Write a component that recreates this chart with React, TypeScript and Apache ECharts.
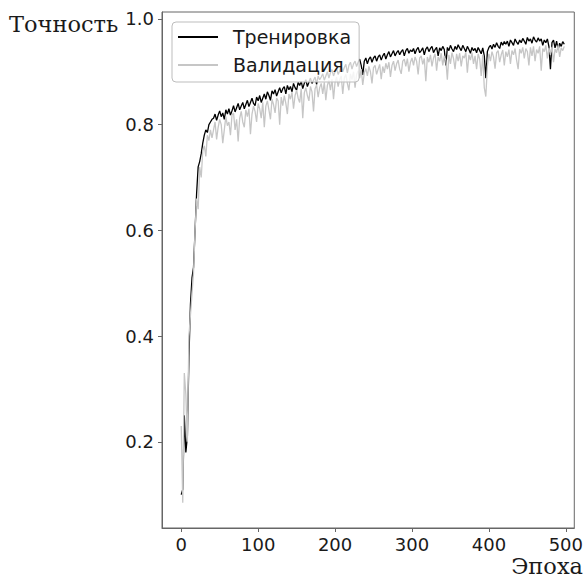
import React, { useEffect, useRef } from "react";
import * as echarts from "echarts";

const EPOCH_STEP = 2;
const X_TICKS = [0, 100, 200, 300, 400, 500];
const Y_TICKS = [0.2, 0.4, 0.6, 0.8, 1.0];
const SERIES_NAMES = ["Тренировка", "Валидация"];
const Y_TITLE = "Точность";
const X_TITLE = "Эпоха";

const trainAcc = [
  0.10, 0.11, 0.25, 0.18, 0.21, 0.36, 0.46, 0.51, 0.53, 0.60, 0.67, 0.72, 0.73, 0.745, 0.765, 0.78, 0.79, 0.785, 0.80, 0.805, 0.81,
  0.812, 0.82, 0.808, 0.818, 0.826, 0.815, 0.822, 0.81, 0.828, 0.82,
  0.83, 0.818, 0.826, 0.836, 0.824, 0.832, 0.84, 0.828, 0.835, 0.842,
  0.83, 0.838, 0.846, 0.834, 0.842, 0.85, 0.84, 0.836, 0.852, 0.845,
  0.855, 0.842, 0.85, 0.858, 0.848, 0.862, 0.855, 0.846, 0.864, 0.858,
  0.866, 0.854, 0.862, 0.87, 0.86, 0.868, 0.872, 0.858, 0.874, 0.866,
  0.872, 0.862, 0.878, 0.87, 0.865, 0.88, 0.874, 0.882, 0.868, 0.878,
  0.885, 0.872, 0.88, 0.888, 0.878, 0.884, 0.89, 0.876, 0.892, 0.885,
  0.89, 0.896, 0.884, 0.892, 0.9, 0.888, 0.898, 0.904, 0.892, 0.9,
  0.906, 0.895, 0.902, 0.91, 0.9, 0.908, 0.914, 0.898, 0.912, 0.918,
  0.905, 0.915, 0.92, 0.91, 0.918, 0.924, 0.912, 0.894, 0.92, 0.926,
  0.915, 0.924, 0.928, 0.918, 0.926, 0.93, 0.92, 0.928, 0.932, 0.922,
  0.93, 0.935, 0.924, 0.932, 0.938, 0.928, 0.934, 0.94, 0.93, 0.936,
  0.94, 0.932, 0.938, 0.942, 0.93, 0.94, 0.944, 0.935, 0.941, 0.938,
  0.944, 0.934, 0.942, 0.946, 0.936, 0.94, 0.945, 0.932, 0.943, 0.947,
  0.938, 0.944, 0.948, 0.936, 0.942, 0.946, 0.93, 0.945, 0.94, 0.948,
  0.942, 0.912, 0.946, 0.94, 0.95, 0.943, 0.938, 0.948, 0.942, 0.951,
  0.945, 0.94, 0.95, 0.944, 0.938, 0.948, 0.942, 0.935, 0.946, 0.94,
  0.944, 0.936, 0.946, 0.94, 0.934, 0.945, 0.93, 0.888, 0.938, 0.946,
  0.95, 0.943, 0.952, 0.946, 0.955, 0.948, 0.944, 0.956, 0.95, 0.957,
  0.952, 0.958, 0.948, 0.96, 0.955, 0.95, 0.962, 0.956, 0.952, 0.96,
  0.955, 0.963, 0.958, 0.952, 0.965, 0.958, 0.962, 0.954, 0.966, 0.96,
  0.956, 0.964, 0.958, 0.962, 0.95, 0.96, 0.955, 0.962, 0.948, 0.905,
  0.955, 0.96, 0.945, 0.958, 0.942, 0.954, 0.948, 0.957, 0.952,
];

const valAcc = [
  0.23, 0.085, 0.33, 0.29, 0.20, 0.40, 0.44, 0.48, 0.52, 0.60, 0.66, 0.64, 0.72, 0.70, 0.75, 0.76, 0.74, 0.78, 0.77, 0.79, 0.775,
  0.79, 0.805, 0.772, 0.795, 0.81, 0.80, 0.765, 0.79, 0.815, 0.798,
  0.805, 0.78, 0.818, 0.822, 0.79, 0.81, 0.768, 0.812, 0.825, 0.805,
  0.795, 0.828, 0.815, 0.83, 0.782, 0.82, 0.835, 0.825, 0.805, 0.84,
  0.83, 0.812, 0.842, 0.795, 0.835, 0.845, 0.828, 0.81, 0.848, 0.838,
  0.822, 0.85, 0.845, 0.8, 0.852, 0.836, 0.855, 0.84, 0.82, 0.858,
  0.848, 0.862, 0.83, 0.855, 0.865, 0.85, 0.842, 0.868, 0.812, 0.86,
  0.87, 0.855, 0.845, 0.872, 0.862, 0.825, 0.868, 0.875, 0.852, 0.87,
  0.878, 0.858, 0.88, 0.846, 0.874, 0.884, 0.865, 0.886, 0.848, 0.88,
  0.89, 0.872, 0.885, 0.892, 0.858, 0.888, 0.895, 0.878, 0.865, 0.896,
  0.885, 0.9, 0.87, 0.895, 0.902, 0.888, 0.905, 0.875, 0.898, 0.906,
  0.892, 0.91, 0.9, 0.878, 0.908, 0.912, 0.895, 0.905, 0.914, 0.886,
  0.91, 0.898, 0.916, 0.905, 0.918, 0.89, 0.912, 0.92, 0.902, 0.915,
  0.922, 0.905, 0.896, 0.92, 0.924, 0.91, 0.925, 0.9, 0.918, 0.926,
  0.912, 0.928, 0.92, 0.895, 0.926, 0.93, 0.914, 0.925, 0.882, 0.928,
  0.918, 0.932, 0.91, 0.926, 0.934, 0.902, 0.928, 0.92, 0.935, 0.912,
  0.93, 0.922, 0.885, 0.932, 0.915, 0.936, 0.925, 0.905, 0.934, 0.92,
  0.935, 0.91, 0.93, 0.926, 0.937, 0.898, 0.932, 0.922, 0.936, 0.915,
  0.93, 0.905, 0.934, 0.924, 0.892, 0.932, 0.87, 0.853, 0.91, 0.934,
  0.92, 0.938, 0.928, 0.906, 0.936, 0.94, 0.918, 0.932, 0.941, 0.912,
  0.938, 0.928, 0.942, 0.915, 0.94, 0.932, 0.944, 0.922, 0.905, 0.943,
  0.935, 0.946, 0.925, 0.944, 0.938, 0.912, 0.946, 0.93, 0.948, 0.92,
  0.942, 0.935, 0.948, 0.902, 0.944, 0.938, 0.95, 0.925, 0.945, 0.932,
  0.947, 0.918, 0.943, 0.936, 0.95, 0.928, 0.945, 0.94, 0.948,
];

const toPairs = (arr: number[]) => arr.map((v, i) => [i * EPOCH_STEP, v]);

export default function App() {
  const ref = useRef<HTMLDivElement>(null);
  useEffect(() => {
    if (!ref.current) return;
    const chart = echarts.init(ref.current, null, { renderer: "svg" });
    const sans = "DejaVu Sans";
    const serif = "DejaVu Serif";
    chart.setOption({
      animation: false,
      backgroundColor: "#ffffff",
      grid: {
        left: 162,
        top: 12,
        right: 10,
        bottom: 49,
        show: true,
        borderColor: "#666",
        borderWidth: 1,
        backgroundColor: "transparent",
      },
      legend: {
        orient: "vertical",
        left: 172,
        top: 22,
        z: 20,
        data: SERIES_NAMES,
        icon: "rect",
        itemWidth: 40,
        itemHeight: 2,
        itemGap: 8,
        padding: [5, 8, 7, 6],
        backgroundColor: "rgba(255,255,255,0.8)",
        borderColor: "#bdbdbd",
        borderWidth: 1,
        borderRadius: 4,
        textStyle: {
          fontFamily: sans,
          fontSize: 19,
          color: "#1a1a1a",
          lineHeight: 20,
          padding: [0, 0, 0, 10],
        },
      },
      xAxis: {
        type: "value",
        min: -25,
        max: 511,
        splitLine: { show: false },
        axisLine: { show: true, onZero: false, lineStyle: { color: "#666", width: 1 } },
        axisTick: {
          show: true,
          customValues: X_TICKS,
          length: 4,
          lineStyle: { color: "#666" },
        },
        axisLabel: {
          customValues: X_TICKS,
          fontFamily: sans,
          fontSize: 18,
          color: "#1a1a1a",
          margin: 7,
        },
      },
      yAxis: {
        type: "value",
        min: 0.037,
        max: 1.013,
        splitLine: { show: false },
        axisLine: { show: true, onZero: false, lineStyle: { color: "#666", width: 1 } },
        axisTick: {
          show: true,
          customValues: Y_TICKS,
          length: 4,
          lineStyle: { color: "#666" },
        },
        axisLabel: {
          customValues: Y_TICKS,
          formatter: (v: number) => v.toFixed(1),
          fontFamily: sans,
          fontSize: 18,
          color: "#1a1a1a",
          margin: 8,
        },
      },
      graphic: [
        {
          type: "text",
          left: 9,
          top: 12,
          style: { text: Y_TITLE, font: `22.5px "${serif}"`, fill: "#1a1a1a" },
        },
        {
          type: "text",
          right: 3,
          top: 554,
          style: { text: X_TITLE, font: `22.5px "${serif}"`, fill: "#1a1a1a" },
        },
      ],
      series: [
        {
          name: SERIES_NAMES[0],
          type: "line",
          data: toPairs(trainAcc),
          showSymbol: false,
          symbol: "none",
          lineStyle: { color: "#000", width: 1.3 },
          itemStyle: { color: "#000" },
        },
        {
          name: SERIES_NAMES[1],
          type: "line",
          data: toPairs(valAcc),
          showSymbol: false,
          symbol: "none",
          lineStyle: { color: "#c6c6c6", width: 1.3 },
          itemStyle: { color: "#c6c6c6" },
        },
      ],
    });
    return () => chart.dispose();
  }, []);
  return (
    <div
      ref={ref}
      style={{ position: "fixed", left: 0, top: 0, width: 586, height: 577, background: "#fff" }}
    />
  );
}
